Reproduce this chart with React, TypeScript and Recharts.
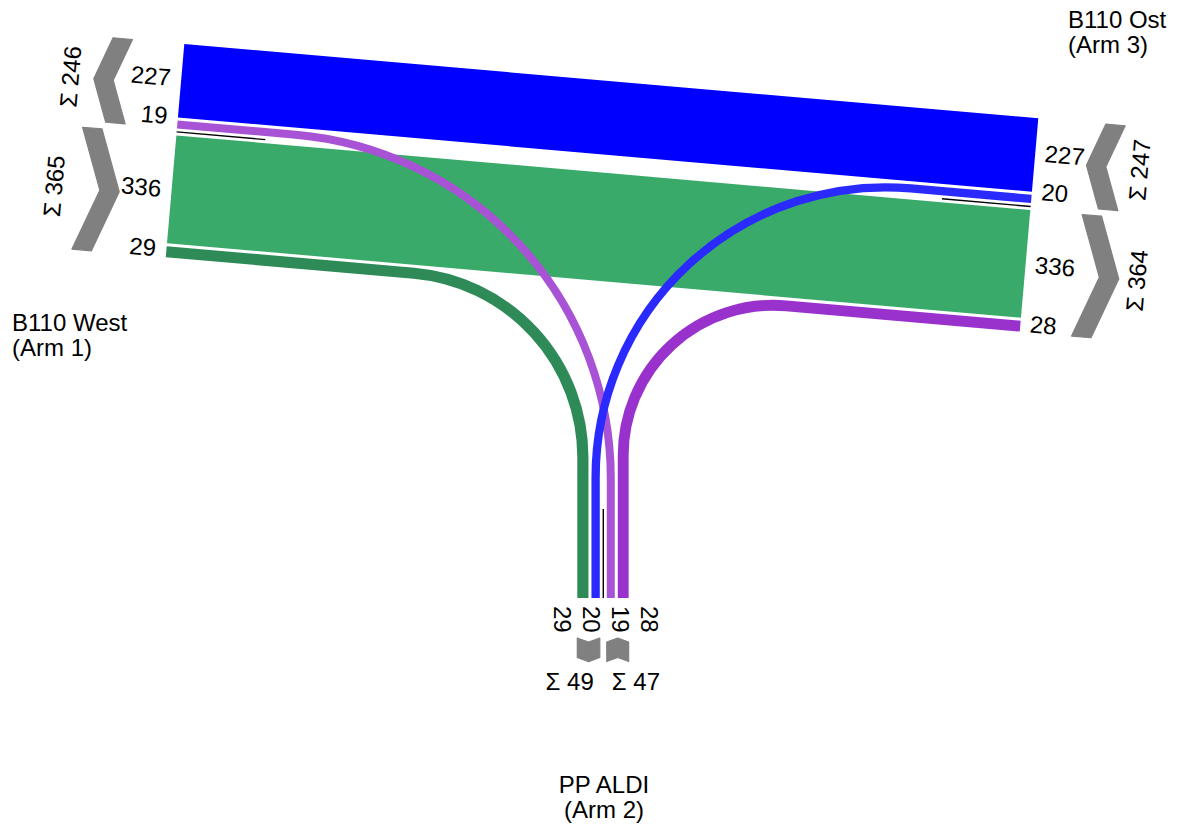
import React from 'react';
import { ScatterChart, XAxis, YAxis, Scatter, ReferenceLine } from 'recharts';

const W = 1189;
const H = 825;

// ---- data: arms and traffic flows (vehicles) ----
const armTitles = ['B110 West', 'PP ALDI', 'B110 Ost'];
const armSubtitles = ['(Arm 1)', '(Arm 2)', '(Arm 3)'];

// 1 = B110 West, 2 = PP ALDI, 3 = B110 Ost
const flowFrom = [1, 3, 1, 2, 3, 2];
const flowTo = [3, 1, 2, 1, 2, 3];
const flowValues = [336, 227, 29, 19, 20, 28];
const flowColors = ['#3aaa6a', '#0000ff', '#2e8b57', '#a852d6', '#2a2aff', '#9932cc'];

// ---- layout ----
const FONT = '"Liberation Sans", Arial, Helvetica, sans-serif';
const FS = 24;
const ROAD_DEG = 4.97;

type Vec = { x: number; y: number };
const add = (a: Vec, b: Vec): Vec => ({ x: a.x + b.x, y: a.y + b.y });
const sub = (a: Vec, b: Vec): Vec => ({ x: a.x - b.x, y: a.y - b.y });
const mul = (a: Vec, k: number): Vec => ({ x: a.x * k, y: a.y * k });
const dot = (a: Vec, b: Vec) => a.x * b.x + a.y * b.y;
const cross = (a: Vec, b: Vec) => a.x * b.y - a.y * b.x;

const rad = (ROAD_DEG * Math.PI) / 180;
const U: Vec = { x: Math.cos(rad), y: Math.sin(rad) };
const N: Vec = { x: -Math.sin(rad), y: Math.cos(rad) };

const laneWidth = (v: number) => 2 + 0.316 * v;
const LANE_GAP = 3;
const DIVIDER_GAP = 7;
const DIVIDER_LEN = 89;
const BAR = 19.5;
const DEPTH = 0.185;

const flowKey = flowFrom.map((a, i) => `${a}-${flowTo[i]}`);

// arc radius of each turning movement
const turnRadius: Record<string, number> = { '1-2': 185, '2-1': 345, '3-2': 290, '2-3': 150 };

interface ArmLayout {
  origin: Vec;
  inward: Vec;
  lateral: Vec;
  groups: string[][];
  inGroup: number;
  labelGap: number;
  labelNudge?: number[];
  labelSpread?: number;
  labelShift?: number;
  chevronGap: number;
  sumGap: number;
  sumFlat: boolean;
}

const armLayout: Record<number, ArmLayout> = {
  1: {
    origin: { x: 184.3, y: 44 }, inward: U, lateral: N,
    groups: [['3-1', '2-1'], ['1-3', '1-2']], inGroup: 1,
    labelGap: 10.5, labelNudge: [-2.3, -8, 0, -3], chevronGap: 52, sumGap: 23.5, sumFlat: false,
  },
  2: {
    origin: { x: 577.3, y: 598 }, inward: { x: 0, y: -1 }, lateral: { x: 1, y: 0 },
    groups: [['1-2', '3-2'], ['2-1', '2-3']], inGroup: 1,
    labelGap: 8, labelSpread: 29, labelShift: 2.5, chevronGap: 40, sumGap: 92, sumFlat: true,
  },
  3: {
    origin: { x: 1038.3, y: 118.3 }, inward: mul(U, -1), lateral: N,
    groups: [['3-1', '3-2'], ['1-3', '2-3']], inGroup: 0,
    labelGap: 9.5, labelNudge: [-2.3, -8, 0, -3], chevronGap: 52, sumGap: 18, sumFlat: false,
  },
};

const titlePos: Record<number, { x: number; y: number; anchor: string }> = {
  1: { x: 12, y: 331, anchor: 'start' },
  2: { x: 604, y: 793, anchor: 'middle' },
  3: { x: 1068, y: 28, anchor: 'start' },
};
const TITLE_LINE = 25;

// point in an arm's frame: s = distance outward from the arm edge, l = lateral offset
const at = (id: number, s: number, l: number): Vec => {
  const g = armLayout[id];
  return sub(add(g.origin, mul(g.lateral, l)), mul(g.inward, s));
};

type Lane = { f: number; l0: number; l1: number; c: number; gi: number };
const arms: Record<number, { lanes: Lane[]; spans: number[][]; divider: number }> = {};
[1, 2, 3].forEach((id) => {
  const g = armLayout[id];
  const lanes: Lane[] = [];
  const spans: number[][] = [];
  let pos = 0;
  let divider = 0;
  g.groups.forEach((grp, gi) => {
    const start = pos;
    grp.forEach((key) => {
      const f = flowKey.indexOf(key);
      const w = laneWidth(flowValues[f]);
      lanes.push({ f, l0: pos, l1: pos + w, c: pos + w / 2, gi });
      pos += w + LANE_GAP;
    });
    const end = pos - LANE_GAP;
    spans.push([start, end]);
    if (gi === 0) {
      divider = end + DIVIDER_GAP / 2;
      pos = end + DIVIDER_GAP;
    }
  });
  arms[id] = { lanes, spans, divider };
});

// geometry of every flow
const flowGeom = flowValues.map((v, f) => {
  const A = flowFrom[f];
  const B = flowTo[f];
  const la = arms[A].lanes.find((l) => l.f === f)!;
  const lb = arms[B].lanes.find((l) => l.f === f)!;
  const dA = armLayout[A].inward;
  const dB = armLayout[B].inward;
  const PA = at(A, 0, la.c);
  const PB = at(B, 0, lb.c);
  if (dot(dA, dB) < -0.99) {
    return { band: true, start: PA, pts: [at(A, 0, la.l0), at(A, 0, la.l1), at(B, 0, lb.l1), at(B, 0, lb.l0)] };
  }
  const s = cross(sub(PB, PA), dB) / cross(dA, dB);
  const I = add(PA, mul(dA, s));
  const out = mul(dB, -1);
  const phi = Math.acos(dot(dA, out));
  const R = turnRadius[flowKey[f]];
  const t = R * Math.tan(phi / 2);
  return {
    band: false, start: PA, R, sweep: cross(dA, out) > 0 ? 1 : 0,
    pts: [PA, sub(I, mul(dA, t)), add(I, mul(out, t)), PB],
  };
});

// scatter points carrying the marks
const flowPoints = flowGeom.map((g, f) => ({ x: g.start.x, y: g.start.y, f }));

const chevrons: { x: number; y: number; pts: Vec[] }[] = [];
const sumLabels: { x: number; y: number; text: string; angle: number; anchor: string; flat: boolean }[] = [];
const laneLabels: { x: number; y: number; text: string; angle: number; anchor: string }[] = [];
const dividers: Vec[][] = [];
const titles = [1, 2, 3].map((id) => ({ ...titlePos[id], id }));

[1, 2, 3].forEach((id) => {
  const g = armLayout[id];
  const arm = arms[id];
  const outward = mul(g.inward, -1);
  let ang = (Math.atan2(outward.y, outward.x) * 180) / Math.PI;
  let anchor = 'start';
  if (Math.abs(ang) > 90.5) {
    ang = ang > 0 ? ang - 180 : ang + 180;
    anchor = 'end';
  }

  dividers.push([at(id, 0, arm.divider), at(id, -DIVIDER_LEN, arm.divider)]);

  arm.lanes.forEach((ln, i) => {
    let lat = ln.c + (g.labelNudge ? g.labelNudge[i] : 0);
    if (g.labelSpread) lat = arm.divider + (g.labelShift || 0) + (i - (arm.lanes.length - 1) / 2) * g.labelSpread;
    const p = at(id, g.labelGap, lat);
    laneLabels.push({ x: p.x, y: p.y, text: String(flowValues[ln.f]), angle: ang, anchor });
  });

  arm.spans.forEach(([l0, l1], gi) => {
    const lm = (l0 + l1) / 2;
    const d = DEPTH * (l1 - l0);
    const s0 = g.chevronGap;
    const inbound = gi === g.inGroup;
    const pts = inbound
      ? [at(id, s0 + d, l0), at(id, s0 + d + BAR, l0), at(id, s0 + BAR, lm), at(id, s0 + d + BAR, l1), at(id, s0 + d, l1), at(id, s0, lm)]
      : [at(id, s0, l0), at(id, s0 + BAR, l0), at(id, s0 + BAR + d, lm), at(id, s0 + BAR, l1), at(id, s0, l1), at(id, s0 + d, lm)];
    const c = at(id, s0, lm);
    chevrons.push({ x: c.x, y: c.y, pts });

    const sum = arm.lanes.filter((l) => l.gi === gi).reduce((a, l) => a + flowValues[l.f], 0);
    if (g.sumFlat) {
      const p = at(id, g.sumGap, gi === 0 ? arm.divider - 9.5 : arm.divider + 8.5);
      sumLabels.push({ x: p.x, y: p.y, text: `Σ ${sum}`, angle: 0, anchor: gi === 0 ? 'end' : 'start', flat: true });
    } else {
      const p = at(id, s0 + BAR + d + g.sumGap, lm);
      sumLabels.push({ x: p.x, y: p.y, text: `Σ ${sum}`, angle: ang - 90, anchor: 'middle', flat: false });
    }
  });
});

const X0 = 0;
const Y0 = 0;
const SX = W / (W - X0);
const SY = H / (H - Y0);

const toPx = (props: any) => (p: Vec) =>
  `${(props.cx + (p.x - props.payload.x) * SX).toFixed(2)},${(props.cy + (p.y - props.payload.y) * SY).toFixed(2)}`;

const FlowShape = (props: any) => {
  const f = props.payload.f;
  const g = flowGeom[f];
  const px = toPx(props);
  if (g.band) {
    const [a, b, c, d] = g.pts;
    return <path d={`M${px(a)} L${px(b)} L${px(c)} L${px(d)} Z`} fill={flowColors[f]} />;
  }
  const [a, b, c, d] = g.pts;
  const r = (g.R as number) * SX;
  return (
    <path
      d={`M${px(a)} L${px(b)} A${r} ${r} 0 0 ${g.sweep} ${px(c)} L${px(d)}`}
      fill="none"
      stroke={flowColors[f]}
      strokeWidth={laneWidth(flowValues[f])}
    />
  );
};

const ChevronShape = (props: any) => {
  const px = toPx(props);
  const pts: Vec[] = props.payload.pts;
  return <polygon points={pts.map(px).join(' ')} fill="#808080" stroke="#808080" strokeWidth={1.2} strokeLinejoin="round" />;
};

const TextShape = (props: any) => {
  const { cx, cy, payload } = props;
  return (
    <text
      x={cx}
      y={cy}
      fontFamily={FONT}
      fontSize={FS}
      fill="#000"
      textAnchor={payload.anchor}
      dominantBaseline={payload.flat ? 'alphabetic' : 'central'}
      transform={payload.angle ? `rotate(${payload.angle} ${cx} ${cy})` : undefined}
    >
      {payload.text}
    </text>
  );
};

const TitleShape = (props: any) => {
  const { cx, cy, payload } = props;
  return (
    <text x={cx} y={cy} fontFamily={FONT} fontSize={FS} fill="#000" textAnchor={payload.anchor}>
      <tspan x={cx} y={cy}>{armTitles[payload.id - 1]}</tspan>
      <tspan x={cx} y={cy + TITLE_LINE}>{armSubtitles[payload.id - 1]}</tspan>
    </text>
  );
};

export default function App() {
  return (
    <div style={{ position: 'absolute', left: 0, top: 0, width: W, height: H, background: '#fff' }}>
      <ScatterChart width={W} height={H} margin={{ top: 0, right: 0, bottom: 0, left: 0 }}>
        <XAxis type="number" dataKey="x" domain={[X0, W]} allowDataOverflow hide />
        <YAxis type="number" dataKey="y" domain={[Y0, H]} allowDataOverflow reversed hide />
        <Scatter data={flowPoints} shape={FlowShape} isAnimationActive={false} />
        {dividers.map((seg, i) => (
          <ReferenceLine
            key={i}
            segment={[{ x: seg[0].x, y: seg[0].y }, { x: seg[1].x, y: seg[1].y }]}
            stroke="#000"
            strokeWidth={1.4}
            ifOverflow="visible"
          />
        ))}
        <Scatter data={chevrons} shape={ChevronShape} isAnimationActive={false} />
        <Scatter data={laneLabels} shape={TextShape} isAnimationActive={false} />
        <Scatter data={sumLabels} shape={TextShape} isAnimationActive={false} />
        <Scatter data={titles} shape={TitleShape} isAnimationActive={false} />
      </ScatterChart>
    </div>
  );
}
